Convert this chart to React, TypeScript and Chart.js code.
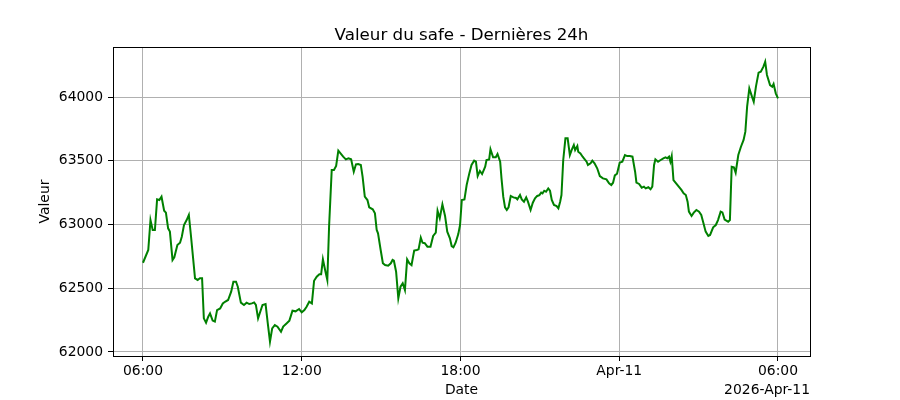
import { Chart, registerables } from "chart.js"
import { useEffect, useRef } from "react"

// minutes since 06:00 (Apr 10) and safe value
const minutes = [
  0, 12, 17, 22, 27, 32, 37, 42, 48, 52, 57, 61, 67, 71, 78, 84, 88, 93, 99, 104,
  109, 118, 124, 129, 134, 138, 143, 148, 152, 158, 163, 168, 175, 181, 186, 193, 200, 205, 211, 215,
  222, 229, 235, 241, 247, 252, 256, 261, 271, 278, 283, 288, 293, 299, 305, 313, 318, 326, 332, 339,
  346, 354, 360, 366, 371, 377, 383, 388, 394, 400, 404, 408, 413, 418, 422, 428, 433, 438, 443, 448,
  454, 460, 466, 472, 478, 483, 488, 494, 498, 503, 509, 513, 521, 526, 530, 533, 539, 544, 549, 556,
  562, 566, 569, 574, 579, 584, 589, 594, 599, 604, 609, 615, 621, 625, 630, 634, 639, 645, 652, 658,
  664, 668, 673, 679, 685, 690, 696, 700, 704, 709, 715, 719, 723, 729, 734, 740, 745, 751, 755, 759,
  764, 769, 776, 779, 785, 788, 794, 800, 804, 810, 813, 817, 821, 825, 829, 834, 840, 846, 849, 855,
  859, 864, 869, 873, 879, 884, 889, 894, 899, 903, 906, 910, 914, 919, 923, 927, 932, 938, 942, 946,
  949, 953, 958, 963, 968, 972, 977, 980, 985, 987, 992, 997, 1000, 1006, 1009, 1015, 1019, 1024, 1030, 1036,
  1043, 1051, 1057, 1062, 1066, 1070, 1075, 1081, 1087, 1093, 1098, 1104, 1110, 1116, 1119, 1125, 1131, 1136, 1140, 1146,
  1151, 1155, 1159, 1162, 1168, 1174, 1180, 1185, 1189, 1193, 1196, 1199, 1203, 1209, 1215, 1221, 1226, 1231, 1235, 1238,
  1244, 1249, 1255, 1261, 1266, 1271, 1276, 1282, 1286, 1293, 1299, 1304, 1310, 1314, 1319, 1327, 1331, 1335, 1340, 1344,
  1350, 1356, 1362, 1366, 1370, 1375, 1381, 1385, 1390, 1396, 1401, 1407, 1411, 1415, 1422, 1427, 1430, 1435, 1440,
]

const values = [
  62700, 62800, 63035, 62957, 62957, 63197, 63192, 63218, 63108, 63093, 62970, 62944, 62722, 62743, 62839, 62857, 62904, 62996, 63035, 63075,
  62904, 62578, 62565, 62578, 62578, 62264, 62230, 62277, 62303, 62246, 62238, 62329, 62342, 62381, 62394, 62408, 62473, 62551, 62551, 62512,
  62387, 62369, 62387, 62376, 62381, 62389, 62369, 62264, 62369, 62376, 62225, 62081, 62185, 62212, 62199, 62159, 62199, 62225, 62246, 62324,
  62319, 62337, 62311, 62329, 62355, 62394, 62381, 62559, 62590, 62609, 62609, 62727, 62643, 62565, 62983, 63427, 63427, 63459, 63579, 63558,
  63532, 63511, 63519, 63511, 63414, 63472, 63475, 63467, 63375, 63218, 63192, 63135, 63119, 63088, 62957, 62931, 62800, 62696, 62682, 62677,
  62696, 62722, 62716, 62630, 62421, 62512, 62539, 62486, 62727, 62696, 62682, 62795, 62800, 62805, 62897, 62857, 62853, 62826, 62826, 62910,
  62936, 63108, 63049, 63158, 63067, 62944, 62892, 62831, 62821, 62857, 62925, 62996, 63192, 63197, 63310, 63401, 63467, 63501, 63493, 63380,
  63420, 63396, 63453, 63506, 63511, 63590, 63527, 63527, 63553, 63493, 63362, 63218, 63135, 63114, 63135, 63224, 63213, 63208, 63197, 63231,
  63197, 63179, 63213, 63179, 63114, 63171, 63205, 63224, 63231, 63250, 63244, 63265, 63257, 63283, 63265, 63192, 63153, 63145, 63127, 63179,
  63231, 63506, 63676, 63676, 63545, 63584, 63624, 63584, 63616, 63571, 63558, 63532, 63519, 63493, 63467, 63480, 63501, 63480, 63441, 63380,
  63362, 63354, 63323, 63310, 63328, 63385, 63398, 63485, 63493, 63545, 63537, 63537, 63532, 63414, 63328, 63318, 63289, 63297, 63283, 63292,
  63276, 63297, 63467, 63511, 63493, 63506, 63519, 63527, 63519, 63532, 63493, 63537, 63349, 63323, 63297, 63271, 63244, 63231, 63179, 63101,
  63067, 63093, 63114, 63101, 63075, 63010, 62944, 62910, 62918, 62978, 62996, 63035, 63101, 63095, 63038, 63022, 63035, 63453, 63448, 63406,
  63545, 63610, 63663, 63728, 63924, 64068, 64003, 63963, 64081, 64191, 64199, 64238, 64277, 64173, 64094, 64081, 64102, 64029, 63990,
]

const xTicks = [0, 360, 720, 1080, 1440]
const xTickLabels = ["06:00", "12:00", "18:00", "Apr-11", "06:00"]
const yTicks = [62000, 62500, 63000, 63500, 64000]

const FONT = "'DejaVu Sans', sans-serif"

const frame = {
  id: "frame",
  afterDraw(chart: any) {
    const { ctx, chartArea: a } = chart
    ctx.save()
    ctx.strokeStyle = "#000"
    ctx.lineWidth = 1
    ctx.strokeRect(Math.round(a.left) + 0.5, Math.round(a.top) + 0.5, Math.round(a.right - a.left), Math.round(a.bottom - a.top))
    ctx.fillStyle = "#000"
    ctx.font = `13.9px ${FONT}`
    ctx.textAlign = "right"
    ctx.textBaseline = "middle"
    ctx.fillText("2026-Apr-11", a.right, 390)
    ctx.restore()
  },
}

const App = () => {
  const ref = useRef<HTMLCanvasElement>(null)

  useEffect(() => {
    document.body.style.margin = "0"
    Chart.register(...registerables)
    const ctx = ref.current?.getContext("2d")
    if (!ctx) return
    Chart.defaults.color = "#000"
    Chart.defaults.font.family = FONT

    const c = new Chart(ctx, {
      type: "line",
      data: {
        datasets: [{
          label: "Valeur",
          data: minutes.map((m, i) => ({ x: m, y: values[i] })),
          borderColor: "#008000",
          borderWidth: 2,
          pointRadius: 0,
          tension: 0,
          fill: false,
        }],
      },
      options: {
        responsive: false,
        animation: false,
        layout: { padding: { left: 0, right: 90, top: 0, bottom: 0 } },
        plugins: {
          legend: { display: false },
          tooltip: { enabled: false },
          title: {
            display: true,
            text: "Valeur du safe - Dernières 24h",
            fullSize: false,
            font: { size: 16.7, weight: "normal" },
            color: "#000",
            padding: { top: 26, bottom: 1 },
          },
        },
        scales: {
          x: {
            type: "linear",
            min: -68,
            max: 1512.6,
            afterFit: (s: any) => { s.height = 44 },
            afterBuildTicks: (s: any) => { s.ticks = xTicks.map((v) => ({ value: v })) },
            ticks: {
              autoSkip: false,
              maxRotation: 0,
              padding: 2,
              font: { size: 13.9 },
              callback: (_v: any, i: number) => xTickLabels[i],
            },
            grid: { color: "#b0b0b0", lineWidth: 1, tickLength: 5, tickColor: "#000" },
            border: { display: false },
            title: { display: true, text: "Date", font: { size: 13.9 }, padding: { top: 0, bottom: 1 } },
          },
          y: {
            min: 61968.6,
            max: 64392,
            afterFit: (s: any) => { s.width = 113 },
            afterBuildTicks: (s: any) => { s.ticks = yTicks.map((v) => ({ value: v })) },
            ticks: { padding: 5, font: { size: 13.9 }, callback: (v: any) => String(v) },
            grid: { color: "#b0b0b0", lineWidth: 1, tickLength: 5, tickColor: "#000" },
            border: { display: false },
            title: { display: true, text: "Valeur", font: { size: 13.9 }, padding: { top: 37, bottom: 0 } },
          },
        },
      },
      plugins: [frame],
    })
    return () => {
      c.destroy()
    }
  }, [])

  return <canvas ref={ref} width={900} height={400}></canvas>
}

export default App
